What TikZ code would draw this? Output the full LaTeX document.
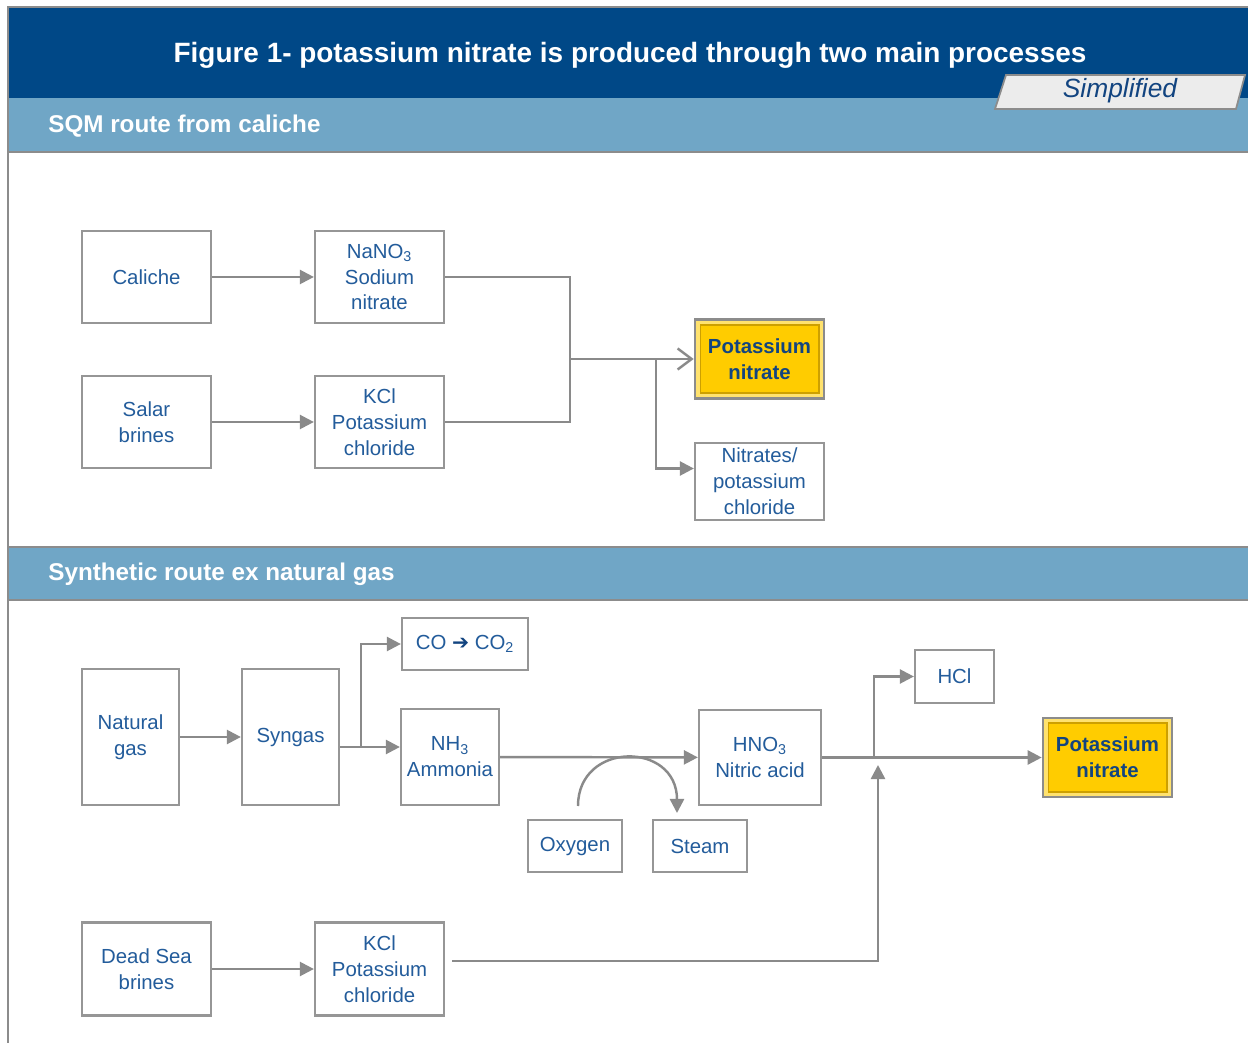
\documentclass[tikz,border=0pt]{standalone}
\usepackage{fontspec}
\setmainfont{Liberation Sans}
\newfontfamily\arrowfont{DejaVu Sans}
\usepackage{tikz}
\usetikzlibrary{arrows.meta}

\definecolor{headblue}{RGB}{0,72,135}
\definecolor{bandblue}{RGB}{112,166,198}
\definecolor{framegray}{RGB}{140,140,140}
\definecolor{boxgray}{RGB}{150,150,150}
\definecolor{linegray}{RGB}{138,138,138}
\definecolor{textblue}{RGB}{35,92,155}
\definecolor{prodblue}{RGB}{18,68,128}
\definecolor{kyellow}{RGB}{255,204,0}
\definecolor{kyellowlight}{RGB}{255,226,110}
\definecolor{kgold}{RGB}{205,160,0}
\definecolor{tabgray}{RGB}{236,236,236}

\begin{document}
\begin{tikzpicture}[x=0.02cm, y=-0.02cm]
      \tikzstyle{box}=[draw=boxgray, line width=1.3pt, fill=white, text=textblue, align=center, inner sep=0pt, font=\fontsize{11.6}{14.7}\selectfont]
      \tikzstyle{product}=[box, draw=framegray, line width=1.5pt, fill=kyellowlight, text=prodblue, font=\fontsize{11.6}{14.7}\selectfont\bfseries,
        path picture={\fill[kyellow, draw=kgold, line width=0.9pt] ([shift={(3pt,3pt)}]path picture bounding box.south west) rectangle ([shift={(-3pt,-3pt)}]path picture bounding box.north east);}]
      \tikzstyle{big}=[minimum width=2.58cm, minimum height=1.86cm]
      \tikzstyle{tall}=[minimum width=1.94cm, minimum height=2.72cm]
      \tikzstyle{small}=[minimum width=1.88cm, minimum height=1.04cm]
      \tikzstyle{wire}=[draw=linegray, line width=1.4pt]
      \tikzstyle{flow}=[wire, -{Triangle[length=8pt, width=8pt]}]
      \tikzstyle{open flow}=[wire, -{Straight Barb[length=8pt, width=12pt, line width=1.4pt]}]
      \tikzstyle{heading}=[anchor=west, inner sep=0pt, text=white, font=\fontsize{13.8}{16}\selectfont\bfseries]

      \useasboundingbox (0,0) rectangle (1248,1043);

      % header and bands
      \fill[headblue] (9,8) rectangle (1248,98);
      \fill[bandblue] (9,98) rectangle (1248,152);
      \draw[framegray, line width=1.2pt] (9,152) -- (1248,152);
      \fill[bandblue] (9,547) rectangle (1248,600);
      \draw[framegray, line width=1.2pt] (9,547) -- (1248,547) (9,600) -- (1248,600);
      \draw[framegray, line width=1.2pt] (8,1043) -- (8,7) -- (1248,7);
      \filldraw[fill=tabgray, draw=framegray, line width=1pt] (995,109) -- (1006,75) -- (1245,75) -- (1236,109) -- cycle;

      \node[text=white, font=\fontsize{15.9}{18}\selectfont\bfseries] (title) at (630,55) {Figure 1- potassium nitrate is produced through two main processes};
      \node[text=prodblue, font=\fontsize{15}{18}\selectfont\itshape] (simplified) at (1120,91) {Simplified};
      \node[heading] (sqm) at (48,126) {SQM route from caliche};
      \node[heading] (synth) at (48,574) {Synthetic route ex natural gas};

      % SQM route
      \node[box, big, minimum height=1.84cm] (caliche) at (146.5,277) {Caliche};
      \node[box, big, minimum height=1.84cm] (nano3) at (379.5,277) {NaNO\textsubscript{3}\\Sodium\\nitrate};
      \node[box, big, minimum height=1.84cm] (salar) at (146.5,422) {Salar\\brines};
      \node[box, big, minimum height=1.84cm] (kclA) at (379.5,422) {KCl\\Potassium\\chloride};
      \node[product, minimum width=2.58cm, minimum height=1.58cm] (kno3A) at (759.5,359) {Potassium\\nitrate};
      \node[box, minimum width=2.58cm, minimum height=1.54cm] (nitrates) at (759.5,481.5) {Nitrates/\\potassium\\chloride};

      \coordinate (join) at (570,359);
      \coordinate (split) at (656,359);

      \draw[flow] (caliche) -- (nano3);
      \draw[flow] (salar) -- (kclA);
      \draw[wire] (nano3.east) -| (join) |- (kclA.east);
      \draw[open flow] (join) -- (kno3A.west);
      \draw[flow] (split) |- ([yshift=7.4pt]nitrates.west);

      % synthetic route
      \node[box, tall] (natgas) at (130.5,737) {Natural\\gas};
      \node[box, tall] (syngas) at (290.5,737) {Syngas};
      \node[box, minimum width=2.52cm, minimum height=1.04cm] (co) at (465,644) {CO {\color{prodblue}\arrowfont\bfseries ➔} CO\textsubscript{2}};
      \node[box, minimum width=1.96cm, minimum height=1.92cm] (nh3) at (450,757) {NH\textsubscript{3}\\Ammonia};
      \node[box, minimum width=2.44cm, minimum height=1.90cm] (hno3) at (760,757.5) {HNO\textsubscript{3}\\Nitric acid};
      \node[box, small] (oxygen) at (575,846) {Oxygen};
      \node[box, small] (steam) at (700,846) {Steam};
      \node[box, minimum width=1.58cm, minimum height=1.06cm] (hcl) at (954.5,676.5) {HCl};
      \node[product, minimum width=2.58cm, minimum height=1.58cm] (kno3B) at (1107.5,757.5) {Potassium\\nitrate};
      \node[box, big] (deadsea) at (146.5,969) {Dead Sea\\brines};
      \node[box, big] (kclB) at (379.5,969) {KCl\\Potassium\\chloride};

      \coordinate (sgsplit) at (361,747);
      \coordinate (o2out) at (578,806);
      \coordinate (steamin) at (677,813);
      \coordinate (hclsplit) at (874,757.5);
      \coordinate (kclin) at (878,765);

      \draw[flow] (natgas) -- (syngas);
      \draw[wire] (syngas.east |- sgsplit) -- (sgsplit);
      \draw[flow] (sgsplit) -- (nh3.west |- sgsplit);
      \draw[flow] (sgsplit) |- (co.west);
      \draw[flow] (nh3) -- (hno3);
      \draw[flow] (o2out) .. controls (578,741) and (677,741) .. (steamin);
      \draw[flow] (hno3) -- (kno3B);
      \draw[flow] (hclsplit) |- (hcl);
      \draw[flow] (deadsea) -- (kclB);
      \draw[flow] ([shift={(4pt,4.5pt)}]kclB.east) -| (kclin);
\end{tikzpicture}
\end{document}
